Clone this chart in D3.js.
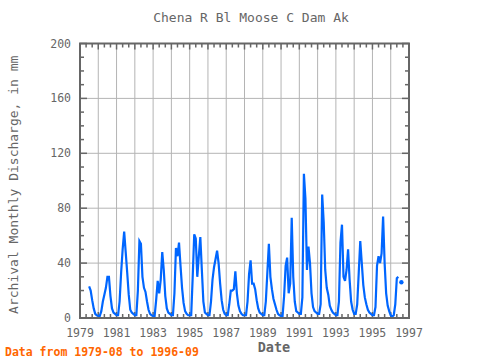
<!DOCTYPE html>
<html><head><meta charset="utf-8">
<script src="https://cdn.jsdelivr.net/npm/d3@7"></script>
<style>body{margin:0;background:#fff}svg{display:block}</style>
</head><body>
<svg id="c" width="480" height="360"></svg>
<script>
// Monthly discharge (mm), starting 1979-08; null = missing
const startYear = 1979, startMonth = 8;
const discharge = [
  23, 20, 13, 7, 3,                                  // 1979 Aug-Dec
  2, 1.5, 1.5, 5, 12, 17, 22, 30, 30, 16, 7, 4,      // 1980
  3, 2, 2, 12, 33, 50, 63, 48, 33, 17, 6, 4,         // 1981
  3, 2, 2, 20, 56, 54, 30, 22, 19, 12, 6, 3,         // 1982
  2, 1.5, 1.5, 13, 27, 18, 28, 48, 35, 16, 7, 4,     // 1983
  3, 2, 2, 18, 51, 45, 55, 38, 22, 11, 5, 3,         // 1984
  2, 2, 2, 30, 61, 58, 30, 45, 59, 35, 12, 4,        // 1985
  3, 2, 2, 12, 28, 37, 43, 49, 40, 25, 13, 6,        // 1986
  3, 2, 2, 10, 20, 20, 21, 34, 18, 9, 5, 3,          // 1987
  2, 2, 2, 12, 32, 42, 25, 25, 21, 13, 7, 4,         // 1988
  3, 2, 2, 12, 33, 54, 30, 21, 14, 10, 6, 3,         // 1989
  2, 1.5, 1.5, 16, 38, 44, 18, 25, 73, 30, 12, 5,    // 1990
  4, 3, 3, 15, 105, 87, 35, 52, 40, 18, 8, 5,        // 1991
  4, 3, 3, 10, 90, 70, 35, 22, 17, 9, 6, 4,          // 1992
  3, 2, 2, 12, 55, 68, 30, 27, 35, 50, 28, 12,       // 1993
  6, 3, 3, 10, 33, 56, 40, 24, 15, 10, 6, 4,         // 1994
  3, 2, 2, 8, 38, 45, 40, 47, 74, 40, 18, 9,         // 1995
  5, 2, 1, 2, 10, 29, 30, null, 26                   // 1996 Jan-Sep
];
const xTicks = [1979, 1981, 1983, 1985, 1987, 1989, 1991, 1993, 1995, 1997];
const yTicks = [0, 40, 80, 120, 160, 200];
const titleText = "Chena R Bl Moose C Dam Ak";
const yLabel = "Archival Monthly Discharge, in mm";
const xLabel = "Date";
const footText = "Data from 1979-08 to 1996-09";

const svg = d3.select("#c");
const L = 80, R = 409, T = 43.5, B = 318;
const x = d3.scaleLinear().domain([1979, 1997]).range([L, R]);
const y = d3.scaleLinear().domain([0, 200]).range([B, T]);
const grey = "#666";
const font = "'DejaVu Sans Mono', monospace";

const data = discharge.map((v, i) => {
  const k = (startMonth - 1) + i;
  const yr = startYear + Math.floor(k / 12), m = k % 12 + 1;
  return {t: yr + (m - 2) / 12, v};
});

// grid
const g = svg.append("g");
g.selectAll(".vg").data(d3.range(1980, 1997)).join("line")
  .attr("x1", d => x(d)).attr("x2", d => x(d)).attr("y1", T).attr("y2", B)
  .attr("stroke", "#b4b4b4").attr("stroke-width", 1);
g.selectAll(".hg").data([40, 80, 120, 160]).join("line")
  .attr("x1", L).attr("x2", R).attr("y1", d => y(d)).attr("y2", d => y(d))
  .attr("stroke", "#b4b4b4").attr("stroke-width", 1);

// ticks (inward)
const xMinor = d3.range(0, 18 * 3 + 1).map(i => 1979 + i / 3);
xMinor.forEach(t => {
  const major = Math.abs(t - Math.round(t)) < 1e-6;
  const len = major ? 6 : 4;
  g.append("line").attr("x1", x(t)).attr("x2", x(t)).attr("y1", B).attr("y2", B - len)
    .attr("stroke", grey).attr("stroke-width", 1.5);
  g.append("line").attr("x1", x(t)).attr("x2", x(t)).attr("y1", T).attr("y2", T + len)
    .attr("stroke", grey).attr("stroke-width", 1.5);
});
d3.range(0, 201, 10).forEach(v => {
  const len = v % 40 === 0 ? 7 : 4;
  g.append("line").attr("x1", L).attr("x2", L + len).attr("y1", y(v)).attr("y2", y(v))
    .attr("stroke", grey).attr("stroke-width", 1.5);
  g.append("line").attr("x1", R).attr("x2", R - len).attr("y1", y(v)).attr("y2", y(v))
    .attr("stroke", grey).attr("stroke-width", 1.5);
});

// line
const line = d3.line().defined(d => d.v != null).x(d => x(d.t)).y(d => y(d.v));
svg.append("path").datum(data).attr("d", line)
  .attr("fill", "none").attr("stroke", "#0066ff").attr("stroke-width", 2.2)
  .attr("stroke-linejoin", "miter");
// isolated points
const iso = data.filter((d, i) => d.v != null &&
  (i === 0 || data[i - 1].v == null) && (i === data.length - 1 || data[i + 1].v == null));
svg.selectAll(".iso").data(iso).join("circle")
  .attr("cx", d => x(d.t)).attr("cy", d => y(d.v)).attr("r", 2.2).attr("fill", "#0066ff");

// frame
svg.append("rect").attr("x", L).attr("y", T).attr("width", R - L).attr("height", B - T)
  .attr("fill", "none").attr("stroke", grey).attr("stroke-width", 2);

// axis labels
svg.selectAll(".xt").data(xTicks).join("text")
  .attr("x", d => x(d)).attr("y", 337).attr("text-anchor", "middle")
  .attr("font-family", font).attr("font-size", 11.5).attr("fill", grey).text(d => d);
svg.selectAll(".yt").data(yTicks).join("text")
  .attr("x", 71).attr("y", d => y(d) + 4).attr("text-anchor", "end")
  .attr("font-family", font).attr("font-size", 11.5).attr("fill", grey).text(d => d);

svg.append("text").attr("x", 251).attr("y", 22).attr("text-anchor", "middle")
  .attr("font-family", font).attr("font-size", 13).attr("fill", grey).text(titleText);
svg.append("text").attr("transform", `translate(18,${(T + B) / 2 + 4}) rotate(-90)`)
  .attr("text-anchor", "middle").attr("font-family", font).attr("font-size", 13)
  .attr("fill", grey).text(yLabel);
svg.append("text").attr("x", 274).attr("y", 352).attr("text-anchor", "middle")
  .attr("font-family", font).attr("font-size", 13.5).attr("font-weight", "bold")
  .attr("fill", grey).text(xLabel);
svg.append("text").attr("x", 5).attr("y", 356)
  .attr("font-family", font).attr("font-size", 11.5).attr("font-weight", "bold")
  .attr("fill", "#ff6600").text(footText);
</script>
</body></html>
